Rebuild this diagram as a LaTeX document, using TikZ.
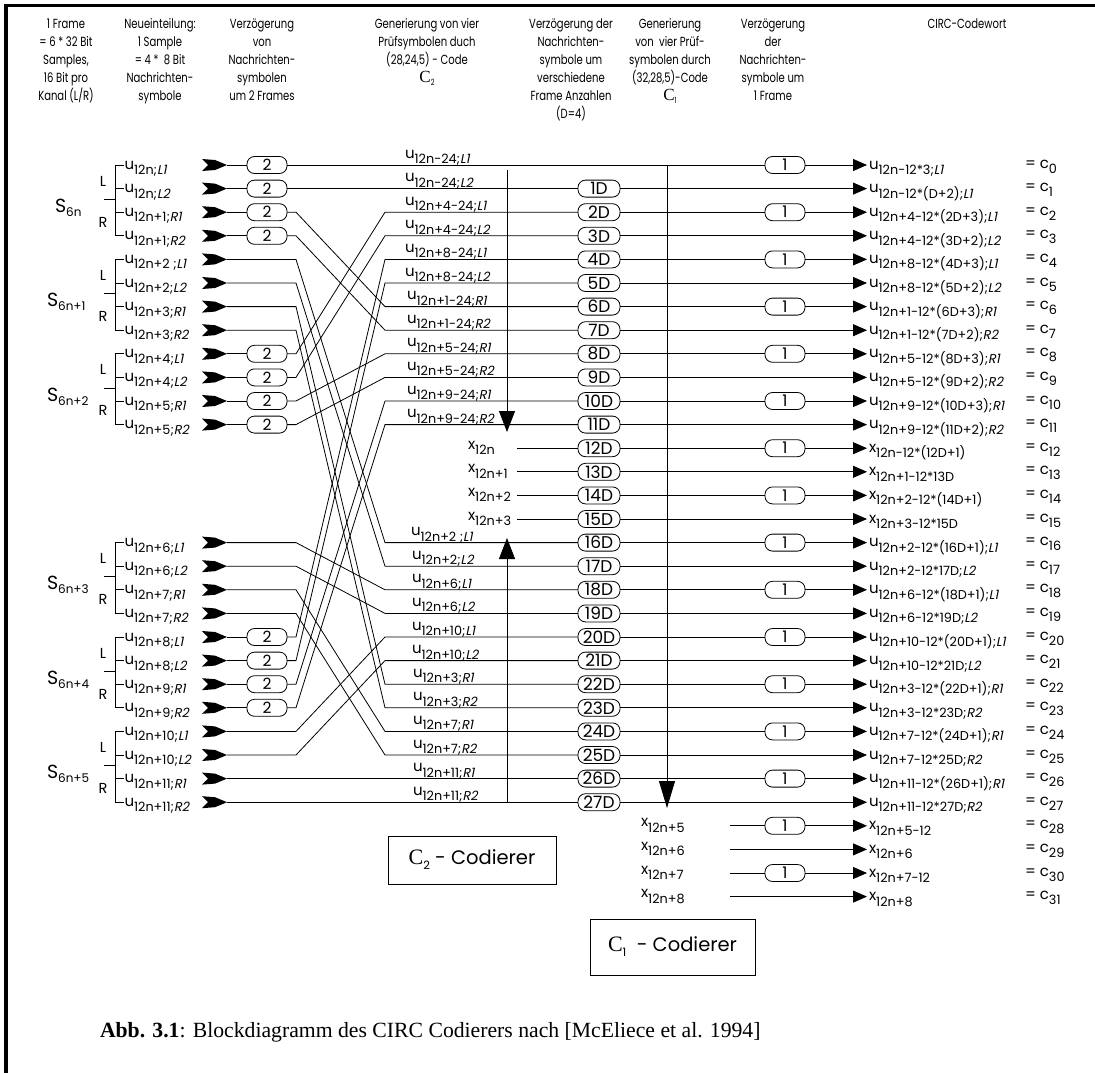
\documentclass[tikz,border=0pt]{standalone}
\usepackage{fontspec}
\setmainfont{Poppins}
\newfontfamily\serif{Liberation Serif}
\newfontfamily\lf{Poppins}
\newfontfamily\slfont{Poppins}[FakeSlant=0.2]
\newfontfamily\hf{Poppins}[FakeStretch=0.76]
\usetikzlibrary{arrows.meta}
\newcommand\bsz{\lf\fontsize{15}{15}\selectfont}
\newcommand\ssz{\lf\fontsize{12.8}{13}\selectfont}
\newcommand\lbl[3]{{\bsz #1}\raisebox{-5.5pt}{\ssz #2{\slfont #3}}}
\newcommand\Csub[1]{{\serif\fontsize{17}{17}\selectfont C}\raisebox{-3pt}{\fontsize{8.5}{8.5}\selectfont #1}}
\newcommand\hl[4]{\node[hdrline] (#1) at (#2,#3) {#4};}
\tikzset{
  every node/.style={inner sep=0pt, outer sep=0pt},
  wire/.style={line width=0.8pt},
  hdrline/.style={anchor=base, font=\hf\fontsize{13.2}{13.2}\selectfont},
  pill/.style={draw, line width=0.8pt, rounded corners=7.5pt, fill=white, minimum height=17pt},
  twobox/.style={pill, minimum width=40pt, font=\fontsize{15.5}{15.5}\selectfont},
  onebox/.style={pill, minimum width=40pt, font=\fontsize{16}{16}\selectfont},
  dbox/.style={pill, minimum width=42pt, font=\fontsize{17}{17}\selectfont},
  arr/.style={-{Triangle[length=14pt,width=12pt]}},
  codbox/.style={draw, line width=0.8pt, font=\fontsize{19.5}{19.5}\selectfont},
}
\begin{document}
\begin{tikzpicture}[x=1pt,y=-1pt]
\useasboundingbox (0,0) rectangle (1095,1073);
\fill[white] (0,0) rectangle (1095,1073);
\draw[line width=3.5pt] (6,1073) -- (6,5.5) -- (1095,5.5);

% headers
\hl{h1a}{66}{28.5}{1 Frame}
\hl{h1b}{66}{46.5}{= 6 * 32 Bit}
\hl{h1c}{66}{64.5}{Samples,}
\hl{h1d}{66}{82.5}{16 Bit pro}
\hl{h1e}{66}{100.5}{Kanal (L/R)}
\hl{h2a}{160}{28.5}{Neueinteilung:}
\hl{h2b}{160}{46.5}{1 Sample}
\hl{h2c}{160}{64.5}{= 4 *\ \ 8 Bit}
\hl{h2d}{160}{82.5}{Nachrichten-}
\hl{h2e}{160}{100.5}{symbole}
\hl{h3a}{262}{28.5}{Verzögerung}
\hl{h3b}{262}{46.5}{von}
\hl{h3c}{262}{64.5}{Nachrichten-}
\hl{h3d}{262}{82.5}{symbolen}
\hl{h3e}{262}{100.5}{um 2 Frames}
\hl{h4a}{427}{28.5}{Generierung von vier}
\hl{h4b}{427}{46.5}{Prüfsymbolen duch}
\hl{h4c}{427}{64.5}{(28,24,5) - Code}
\hl{h4d}{427}{82.5}{\Csub{2}}
\hl{h5a}{571}{28.5}{Verzögerung der}
\hl{h5b}{571}{46.5}{Nachrichten-}
\hl{h5c}{571}{64.5}{symbole um}
\hl{h5d}{571}{82.5}{verschiedene}
\hl{h5e}{571}{100.5}{Frame Anzahlen}
\hl{h5f}{571}{118.5}{(D=4)}
\hl{h6a}{670}{28.5}{Generierung}
\hl{h6b}{670}{46.5}{von\ \ vier Prüf-}
\hl{h6c}{670}{64.5}{symbolen durch}
\hl{h6d}{670}{82.5}{(32,28,5)-Code}
\hl{h6e}{670}{100.5}{\Csub{1}}
\hl{h7a}{773}{28.5}{Verzögerung}
\hl{h7b}{773}{46.5}{der}
\hl{h7c}{773}{64.5}{Nachrichten-}
\hl{h7d}{773}{82.5}{symbole um}
\hl{h7e}{773}{100.5}{1 Frame}
\hl{h8a}{967}{28.5}{CIRC-Codewort}

% D boxes
\foreach \r in {1,...,27} {
  \pgfmathsetmacro\yy{165+23.6*\r}
  \node[dbox] (d\r) at (599,\yy) {\r D};
}
% 1 boxes
\foreach \r in {0,2,...,30} {
  \pgfmathsetmacro\yy{165+23.6*\r}
  \node[onebox] (o\r) at (785,\yy) {1};
}
% tips
\foreach \r in {0,...,31} {
  \pgfmathsetmacro\yy{165+23.6*\r}
  \coordinate (t\r) at (867,\yy);
}
% right side connections
\draw[wire,arr] (o0) -- (t0);
\foreach \r in {1,...,27} {
  \ifodd\r\relax
    \draw[wire,arr] (d\r) -- (t\r);
  \else
    \draw[wire] (d\r) -- (o\r);
    \draw[wire,arr] (o\r) -- (t\r);
  \fi
}
\foreach \r/\s in {28/12n+5,29/12n+6,30/12n+7,31/12n+8} {
  \pgfmathsetmacro\yy{165+23.6*\r}
  \node[anchor=base west] (xr\r) at (641,\yy+1) {\lbl{x}{\s}{}};
  \coordinate (s\r) at (730,\yy);
  \ifodd\r\relax
    \draw[wire,arr] (s\r) -- (t\r);
  \else
    \draw[wire] (s\r) -- (o\r);
    \draw[wire,arr] (o\r) -- (t\r);
  \fi
}
% x inputs 12..15
\foreach \r/\s in {12/12n,13/12n+1,14/12n+2,15/12n+3} {
  \pgfmathsetmacro\yy{165+23.6*\r}
  \node[anchor=base west] (xl\r) at (468,\yy+1) {\lbl{x}{\s}{}};
  \coordinate (xs\r) at (517,\yy);
  \draw[wire] (xs\r) -- (d\r);
}

% inputs
\foreach \k/\sa/\sb/\t/\bx in {
 0/12n;/L1/0/1, 1/12n;/L2/1/1, 2/12n+1;/R1/6/1, 3/12n+1;/R2/7/1,
 4/12n+2 ;/L1/16/0, 5/12n+2;/L2/17/0, 6/12n+3;/R1/22/0, 7/12n+3;/R2/23/0,
 8/12n+4;/L1/2/1, 9/12n+4;/L2/3/1, 10/12n+5;/R1/8/1, 11/12n+5;/R2/9/1,
 16/12n+6;/L1/18/0, 17/12n+6;/L2/19/0, 18/12n+7;/R1/24/0, 19/12n+7;/R2/25/0,
 20/12n+8;/L1/4/1, 21/12n+8;/L2/5/1, 22/12n+9;/R1/10/1, 23/12n+9;/R2/11/1,
 24/12n+10;/L1/20/0, 25/12n+10;/L2/21/0, 26/12n+11;/R1/26/0, 27/12n+11;/R2/27/0} {
  \pgfmathsetmacro\ya{165+23.6*\k}
  \pgfmathsetmacro\yb{165+23.6*\t}
  \node[anchor=base west] (in\k) at (124.5,\ya+4) {\lbl{u}{\sa}{\sb}};
  \draw[wire] (115,\ya) -- (124,\ya);
  \fill (202,\ya-6) -- (215,\ya-5) -- (227,\ya) -- (215,\ya+5) -- (202,\ya+6) -- (208,\ya) -- cycle;
  \coordinate (ch\k) at (227,\ya);
  \coordinate (bd\k) at (296,\ya);
  \coordinate (en\k) at (385,\yb);
  \ifnum\bx=1
    \node[twobox] (b\k) at (267,\ya) {2};
    \draw[wire] (ch\k) -- (b\k);
    \def\src{b\k}
  \else
    \def\src{ch\k}
  \fi
  \ifnum\t=0
    \draw[wire] (\src) -- (o0);
  \else
    \draw[wire] (\src) -- (bd\k) -- (en\k) -- (d\t);
  \fi
}

% brackets and S labels
\foreach \s/\sub/\sx in {0/6n/55,4/6n+1/47,8/6n+2/47,16/6n+3/47,20/6n+4/47,24/6n+5/47} {
  \pgfmathsetmacro\ya{165+23.6*\s}
  \pgfmathsetmacro\yd{165+23.6*(\s+3)}
  \pgfmathsetmacro\ym{165+23.6*(\s+1.45)}
  \draw[wire] (115,\ya) -- (115,\yd);
  \draw[wire] (104,\ym) -- (115,\ym);
  \node[font=\lf\fontsize{14.5}{14.5}\selectfont] (L\s) at (103,\ya+16) {L};
  \node[font=\lf\fontsize{14.5}{14.5}\selectfont] (R\s) at (103,\ya+57) {R};
  \node[anchor=base west] (S\s) at (\sx,\ym+13) {{\lf\fontsize{19}{19}\selectfont S}\raisebox{-4pt}{\lf\fontsize{12}{12}\selectfont \sub}};
}

% middle labels
\foreach \r/\sa/\sb/\xx in {
 0/12n-24;/L1/405, 1/12n-24;/L2/405, 2/12n+4-24;/L1/405, 3/12n+4-24;/L2/405,
 4/12n+8-24;/L1/405, 5/12n+8-24;/L2/405, 6/12n+1-24;/R1/407, 7/12n+1-24;/R2/407,
 8/12n+5-24;/R1/407, 9/12n+5-24;/R2/407, 10/12n+9-24;/R1/407, 11/12n+9-24;/R2/407,
 16/12n+2 ;/L1/411, 17/12n+2;/L2/412, 18/12n+6;/L1/412, 19/12n+6;/L2/412,
 20/12n+10;/L1/412, 21/12n+10;/L2/412, 22/12n+3;/R1/413, 23/12n+3;/R2/413,
 24/12n+7;/R1/413, 25/12n+7;/R2/413, 26/12n+11;/R1/413, 27/12n+11;/R2/413} {
  \pgfmathsetmacro\yy{165+23.6*\r}
  \node[anchor=base west] (m\r) at (\xx,\yy-7) {\lbl{u}{\sa}{\sb}};
}

% output labels
\foreach \r/\l/\sa/\sb in {
 0/u/12n-12*3;/L1, 1/u/12n-12*(D+2);/L1, 2/u/12n+4-12*(2D+3);/L1, 3/u/12n+4-12*(3D+2);/L2,
 4/u/12n+8-12*(4D+3);/L1, 5/u/12n+8-12*(5D+2);/L2, 6/u/12n+1-12*(6D+3);/R1, 7/u/12n+1-12*(7D+2);/R2,
 8/u/12n+5-12*(8D+3);/R1, 9/u/12n+5-12*(9D+2);/R2, 10/u/12n+9-12*(10D+3);/R1, 11/u/12n+9-12*(11D+2);/R2,
 12/x/12n-12*(12D+1)/{}, 13/x/12n+1-12*13D/{}, 14/x/12n+2-12*(14D+1)/{}, 15/x/12n+3-12*15D/{},
 16/u/12n+2-12*(16D+1);/L1, 17/u/12n+2-12*17D;/L2, 18/u/12n+6-12*(18D+1);/L1, 19/u/12n+6-12*19D;/L2,
 20/u/12n+10-12*(20D+1);/L1, 21/u/12n+10-12*21D;/L2, 22/u/12n+3-12*(22D+1);/R1, 23/u/12n+3-12*23D;/R2,
 24/u/12n+7-12*(24D+1);/R1, 25/u/12n+7-12*25D;/R2, 26/u/12n+11-12*(26D+1);/R1, 27/u/12n+11-12*27D;/R2,
 28/x/12n+5-12/{}, 29/x/12n+6/{}, 30/x/12n+7-12/{}, 31/x/12n+8/{}} {
  \pgfmathsetmacro\yy{165+23.6*\r}
  \node[anchor=base west] (out\r) at (869,\yy+4) {\lbl{\l}{\sa}{\sb}};
  \node[anchor=base west] (c\r) at (1025,\yy+3) {{\bsz = c}\raisebox{-5pt}{\ssz \r}};
}

% vertical arrows
\coordinate (va) at (507,170);
\coordinate (vb) at (507,432);
\draw[wire,-{Triangle[length=21pt,width=16pt]}] (va) -- (vb);
\coordinate (ua) at (507,802);
\coordinate (ub) at (507,538);
\draw[wire,-{Triangle[length=21pt,width=16pt]}] (ua) -- (ub);
\coordinate (wa) at (667,165);
\coordinate (wb) at (667,808);
\draw[wire,-{Triangle[length=27pt,width=16pt]}] (wa) -- (wb);

% coder boxes
\node[codbox, minimum width=168pt, minimum height=48pt] (c2box) at (472,860) {{\serif\fontsize{22}{22}\selectfont C}\raisebox{-5pt}{\fontsize{11.5}{11.5}\selectfont 2} - Codierer};
\node[codbox, minimum width=165pt, minimum height=56pt] (c1box) at (672.5,947) {{\serif\fontsize{22}{22}\selectfont C}\raisebox{-5pt}{\fontsize{11.5}{11.5}\selectfont 1}\ \ - Codierer};

% caption
\node[anchor=base west, font=\serif\fontsize{21.7}{21.7}\selectfont] (cap) at (100,1037) {\textbf{Abb. 3.1}: Blockdiagramm des CIRC Codierers nach [McEliece et al. 1994]};
\end{tikzpicture}
\end{document}
